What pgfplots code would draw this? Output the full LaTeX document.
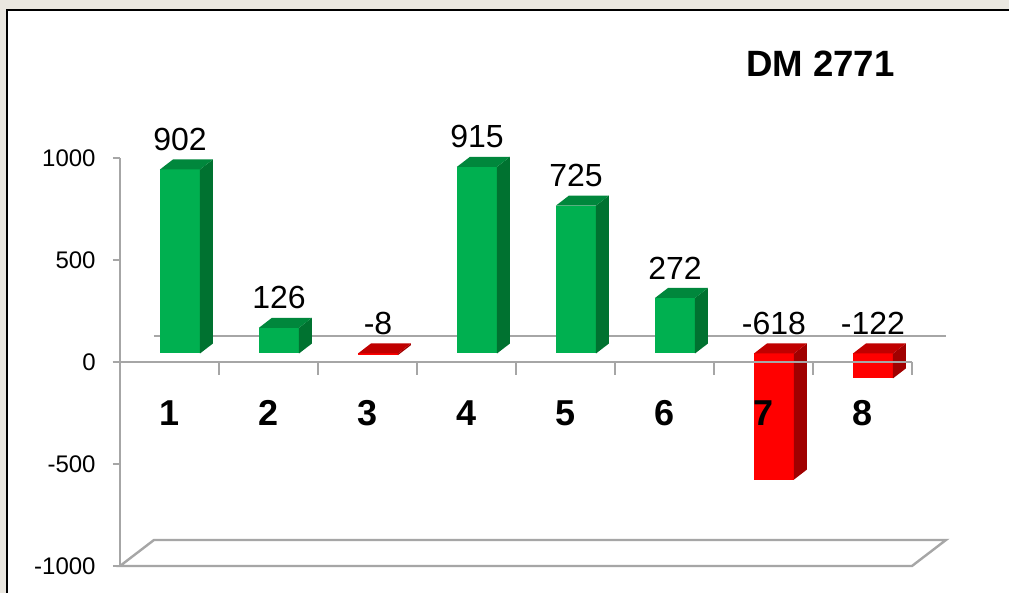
\documentclass[border=0pt]{standalone}
\usepackage{pgfplots}
\pgfplotsset{compat=1.18}
\usepackage{fontspec}
\setmainfont{Liberation Sans}

\definecolor{gfront}{HTML}{00B050}
\definecolor{gtop}{HTML}{00873C}
\definecolor{gside}{HTML}{007230}
\definecolor{rfront}{HTML}{FF0000}
\definecolor{rtop}{HTML}{C00000}
\definecolor{rside}{HTML}{A00000}
\definecolor{wall}{HTML}{A6A6A6}
\definecolor{paper}{HTML}{EAE7E0}

\tikzset{
  lab/.style={font=\fontsize{16}{18}\selectfont, anchor=base, inner sep=0pt},
  cat/.style={font=\fontsize{18}{20}\selectfont\bfseries, anchor=base, inner sep=0pt},
  ylab/.style={font=\fontsize{12}{14}\selectfont, anchor=east, inner sep=0pt},
}

% one column: #1 category, #2 value, #3 colour prefix (g or r)
\newcommand\cube[3]{%
  \pgfmathsetmacro\xl{#1-0.096}%
  \pgfmathsetmacro\xr{#1+0.308}%
  \pgfmathsetmacro\xbl{#1+0.035}%
  \pgfmathsetmacro\xbr{#1+0.439}%
  \pgfmathsetmacro\ylo{min(41.7,#2+41.7)}%
  \pgfmathsetmacro\yhi{max(41.7,#2+41.7)}%
  \pgfmathsetmacro\ylob{\ylo+49}%
  \pgfmathsetmacro\yhib{\yhi+49}%
  \pgfmathsetmacro\xc{#1+0.106}%
  \pgfmathsetmacro\yl{max(0,#2)+134.7}%
  \edef\tmp{%
    \noexpand\addplot[fill=#3front,draw=none] coordinates {(\xl,\ylo) (\xr,\ylo) (\xr,\yhi) (\xl,\yhi)} -- cycle;
    \noexpand\addplot[fill=#3side,draw=none] coordinates {(\xr,\ylo) (\xbr,\ylob) (\xbr,\yhib) (\xr,\yhi)} -- cycle;
    \noexpand\addplot[fill=#3top,draw=none] coordinates {(\xl,\yhi) (\xr,\yhi) (\xbr,\yhib) (\xbl,\yhib)} -- cycle;
    \noexpand\node[lab] at (axis cs:\xc,\yl) {#2};
  }\tmp
}

\begin{document}
\begin{tikzpicture}
\path[use as bounding box] (0,0) rectangle (504.5pt,296.5pt);
\fill[paper] (0,0) rectangle (504.5pt,296.5pt);
\fill[white] (3.25pt,0) rectangle (504.5pt,291.25pt);
\draw[black, line width=1pt] (3.25pt,0) -- (3.25pt,291.25pt) -- (504.5pt,291.25pt);
\begin{axis}[
    at={(0,0)}, anchor=south west,
    scale only axis, width=504.5pt, height=296.5pt,
    xmin=-0.7121, xmax=9.4798, ymin=-1132.4, ymax=1774.5,
    hide axis, clip=false
]
% floor and back wall gridline
\addplot[wall, line width=1.2pt] coordinates {(0.5,-1000) (8.5,-1000) (8.8434,-872.5) (0.8434,-872.5)} -- cycle;
\addplot[wall, line width=1.2pt] coordinates {(0.8434,127.5) (8.8434,127.5)};
% value axis
\addplot[wall, line width=1.2pt] coordinates {(0.5,-1000) (0.5,1000)};
\pgfplotsinvokeforeach{1000,500,0,-500,-1000}{
  \addplot[wall, line width=1.2pt] coordinates {(0.429,#1) (0.5,#1)};
  \node[ylab] at (axis cs:0.2576,#1) {#1};
}

% columns
\cube{1}{902}{g}
\cube{2}{126}{g}
\cube{3}{-8}{r}
\cube{4}{915}{g}
\cube{5}{725}{g}
\cube{6}{272}{g}
\cube{7}{-618}{r}
\cube{8}{-122}{r}

% category axis
\addplot[wall, line width=1.2pt] coordinates {(0.429,0) (8.5,0)};
\pgfplotsinvokeforeach{1.5,2.5,3.5,4.5,5.5,6.5,7.5,8.5}{
  \addplot[wall, line width=1.2pt] coordinates {(#1,0) (#1,-64)};
}
\pgfplotsinvokeforeach{1,...,8}{
  \node[cat] at (axis cs:#1,-313.7) {#1};
}

\node[font=\fontsize{18.3}{21}\selectfont\bfseries, anchor=base, inner sep=0pt]
  at (axis cs:7.5758,1397) {DM 2771};
\end{axis}
\end{tikzpicture}
\end{document}
